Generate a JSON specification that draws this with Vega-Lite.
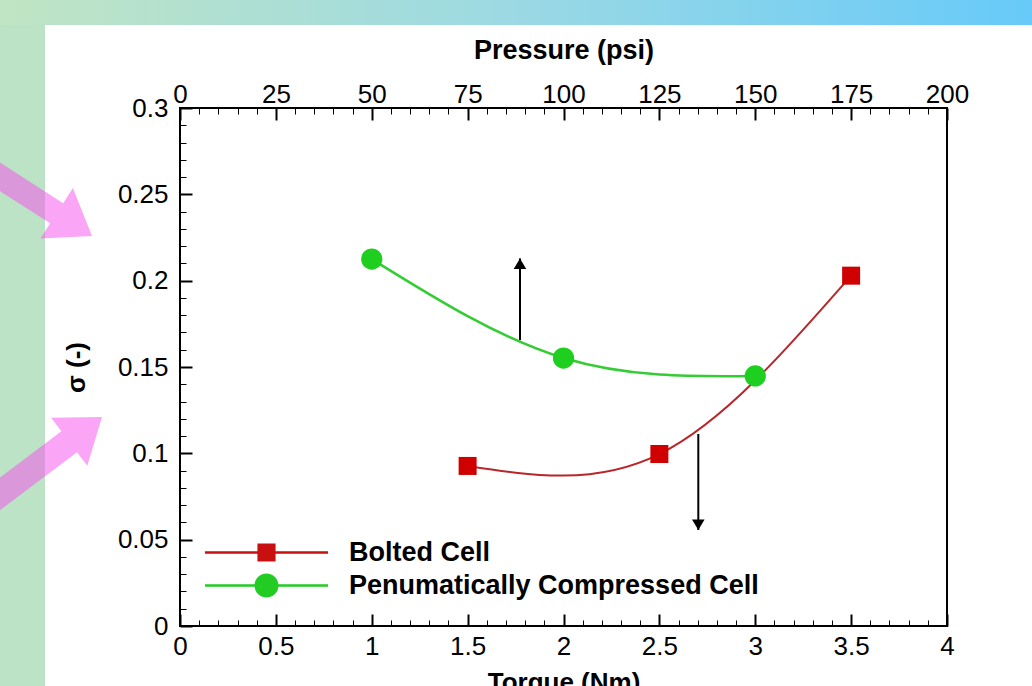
{
  "$schema": "https://vega.github.io/schema/vega-lite/v6.json",
  "width": 767,
  "height": 518,
  "autosize": {"type": "none"},
  "padding": {"left": 180, "top": 108, "right": 85, "bottom": 60},
  "background": "white",
  "config": {
    "view": {"stroke": "black", "strokeWidth": 2},
    "font": "Liberation Sans",
    "axis": {
      "labelFont": "Liberation Sans", "labelFontSize": 26, "labelColor": "black",
      "titleFont": "Liberation Sans", "titleFontSize": 26, "titleFontWeight": "bold", "titleColor": "black",
      "tickColor": "black", "grid": false, "domain": false, "labelFlush": false, "labelOverlap": false
    }
  },
  "datasets": {
    "bolted": [
      {"torque": 1.5, "sigma": 0.0927},
      {"torque": 2.5, "sigma": 0.0996},
      {"torque": 3.5, "sigma": 0.2029}
    ],
    "pneumatic": [
      {"pressure": 50, "sigma": 0.2125},
      {"pressure": 100, "sigma": 0.1552},
      {"pressure": 150, "sigma": 0.1448}
    ],
    "arrows": [
      {"torque": 1.773, "from": 0.1656, "to": 0.2129, "dir": "up"},
      {"torque": 2.703, "from": 0.1112, "to": 0.0556, "dir": "down"}
    ],
    "callouts": [
      {"torque": -0.459, "sigma": 0.2259, "arrow": "upper"},
      {"torque": -0.4068, "sigma": 0.121, "arrow": "lower"}
    ],
    "backdrop": [
      {"part": "top", "x": -1, "x2": 4.6, "y": 0.348, "y2": 0.37},
      {"part": "left", "x": -1, "x2": -0.704, "y": -0.04, "y2": 0.3481}
    ],
    "legend": [
      {"series": "Bolted Cell"},
      {"series": "Penumatically Compressed Cell"}
    ]
  },
  "layer": [
    {
      "data": {"name": "backdrop"},
      "transform": [{"filter": "datum.part === 'top'"}],
      "mark": {"type": "rect", "clip": false, "fill": {"gradient": "linear", "x1": 0, "y1": 0, "x2": 1, "y2": 0, "stops": [{"offset": 0, "color": "#c1e5c3"}, {"offset": 0.5, "color": "#9ad9e4"}, {"offset": 1, "color": "#64c9fa"}]}},
      "encoding": {
        "x": {"field": "x", "type": "quantitative", "scale": {"domain": [0, 4], "nice": false, "zero": false}, "axis": null},
        "x2": {"field": "x2"},
        "y": {"field": "y", "type": "quantitative", "scale": {"domain": [0, 0.3], "nice": false, "zero": false}, "axis": null},
        "y2": {"field": "y2"}
      }
    },
    {
      "data": {"name": "backdrop"},
      "transform": [{"filter": "datum.part === 'left'"}],
      "mark": {"type": "rect", "clip": false, "fill": "#bce3c6"},
      "encoding": {
        "x": {"field": "x", "type": "quantitative", "scale": {"domain": [0, 4], "nice": false, "zero": false}, "axis": null},
        "x2": {"field": "x2"},
        "y": {"field": "y", "type": "quantitative", "scale": {"domain": [0, 0.3], "nice": false, "zero": false}, "axis": null},
        "y2": {"field": "y2"}
      }
    },
    {
      "data": {"name": "callouts"},
      "mark": {"type": "point", "filled": true, "size": 40000, "fill": "#f652ec", "opacity": 0.52, "strokeWidth": 0, "clip": false},
      "encoding": {
        "x": {"field": "torque", "type": "quantitative", "scale": {"domain": [0, 4], "nice": false, "zero": false}, "axis": null},
        "y": {"field": "sigma", "type": "quantitative", "scale": {"domain": [0, 0.3], "nice": false, "zero": false}, "axis": null},
        "shape": {"field": "arrow", "type": "nominal", "legend": null, "scale": {"domain": ["upper", "lower"], "range": ["M0,0L-0.515,0.025L-0.418,-0.126L-1.68,-0.936L-1.55,-1.138L-0.288,-0.328L-0.191,-0.479Z", "M0,0L-0.147,0.487L-0.25,0.351L-1.449,1.254L-1.605,1.046L-0.406,0.143L-0.509,0.007Z"]}}
      }
    },
    {
      "data": {"name": "bolted"},
      "mark": {"type": "line", "interpolate": "natural", "color": "#b8262b", "strokeWidth": 2},
      "encoding": {
        "x": {"field": "torque", "type": "quantitative", "scale": {"domain": [0, 4], "nice": false, "zero": false},
          "axis": {"orient": "bottom", "values": [0, 0.5, 1, 1.5, 2, 2.5, 3, 3.5, 4], "format": "~g", "tickSize": -12, "tickWidth": 2, "labelPadding": 19, "title": "Torque (Nm)", "titlePadding": 10}},
        "y": {"field": "sigma", "type": "quantitative", "scale": {"domain": [0, 0.3], "nice": false, "zero": false},
          "axis": {"orient": "left", "values": [0, 0.05, 0.1, 0.15, 0.2, 0.25, 0.3], "format": "~g", "tickSize": -12, "tickWidth": 2, "labelPadding": 24, "title": "σ (-)", "titlePadding": 28}}
      }
    },
    {
      "data": {"name": "bolted"},
      "mark": {"type": "point", "shape": "square", "filled": true, "size": 324, "color": "#d00000", "opacity": 1},
      "encoding": {
        "x": {"field": "torque", "type": "quantitative", "scale": {"domain": [0, 4], "nice": false, "zero": false},
          "axis": {"orient": "bottom", "values": [0.1, 0.2, 0.3, 0.4, 0.6, 0.7, 0.8, 0.9, 1.1, 1.2, 1.3, 1.4, 1.6, 1.7, 1.8, 1.9, 2.1, 2.2, 2.3, 2.4, 2.6, 2.7, 2.8, 2.9, 3.1, 3.2, 3.3, 3.4, 3.6, 3.7, 3.8, 3.9], "tickSize": -6, "tickWidth": 1, "labels": false, "title": null}},
        "y": {"field": "sigma", "type": "quantitative", "scale": {"domain": [0, 0.3], "nice": false, "zero": false},
          "axis": {"orient": "left", "values": [0.01, 0.02, 0.03, 0.04, 0.06, 0.07, 0.08, 0.09, 0.11, 0.12, 0.13, 0.14, 0.16, 0.17, 0.18, 0.19, 0.21, 0.22, 0.23, 0.24, 0.26, 0.27, 0.28, 0.29], "tickSize": -6, "tickWidth": 1, "labels": false, "title": null}}
      }
    },
    {
      "data": {"name": "pneumatic"},
      "mark": {"type": "line", "interpolate": "natural", "color": "#33cc33", "strokeWidth": 2.5},
      "encoding": {
        "x": {"field": "pressure", "type": "quantitative", "scale": {"domain": [0, 200], "nice": false, "zero": false},
          "axis": {"orient": "top", "values": [0, 25, 50, 75, 100, 125, 150, 175, 200], "format": "d", "tickSize": -12, "tickWidth": 2, "labelPadding": 13, "title": "Pressure (psi)", "titleFontSize": 27, "titlePadding": 17}},
        "y": {"field": "sigma", "type": "quantitative", "scale": {"domain": [0, 0.3], "nice": false, "zero": false}, "axis": null}
      }
    },
    {
      "data": {"name": "pneumatic"},
      "mark": {"type": "point", "shape": "circle", "filled": true, "size": 452, "color": "#1fcf1f", "opacity": 1},
      "encoding": {
        "x": {"field": "pressure", "type": "quantitative", "scale": {"domain": [0, 200], "nice": false, "zero": false},
          "axis": {"orient": "top", "values": [5, 10, 15, 20, 30, 35, 40, 45, 55, 60, 65, 70, 80, 85, 90, 95, 105, 110, 115, 120, 130, 135, 140, 145, 155, 160, 165, 170, 180, 185, 190, 195], "tickSize": -6, "tickWidth": 1, "labels": false, "title": null}},
        "y": {"field": "sigma", "type": "quantitative", "scale": {"domain": [0, 0.3], "nice": false, "zero": false}, "axis": null}
      }
    },
    {
      "data": {"name": "arrows"},
      "mark": {"type": "rule", "color": "black", "strokeWidth": 2},
      "encoding": {
        "x": {"field": "torque", "type": "quantitative", "scale": {"domain": [0, 4], "nice": false, "zero": false}, "axis": null},
        "y": {"field": "from", "type": "quantitative", "scale": {"domain": [0, 0.3], "nice": false, "zero": false}, "axis": null},
        "y2": {"field": "to"}
      }
    },
    {
      "data": {"name": "arrows"},
      "mark": {"type": "point", "filled": true, "size": 440, "color": "black", "opacity": 1},
      "encoding": {
        "x": {"field": "torque", "type": "quantitative", "scale": {"domain": [0, 4], "nice": false, "zero": false}, "axis": null},
        "y": {"field": "to", "type": "quantitative", "scale": {"domain": [0, 0.3], "nice": false, "zero": false}, "axis": null},
        "shape": {"field": "dir", "type": "nominal", "legend": null, "scale": {"domain": ["up", "down"], "range": ["M0,0L-0.6,1L0.6,1Z", "M0,0L-0.6,-1L0.6,-1Z"]}}
      }
    },
    {
      "data": {"name": "legend"},
      "mark": {"type": "point", "filled": true, "size": 0},
      "encoding": {
        "color": {"field": "series", "type": "nominal", "scale": {"domain": ["Bolted Cell", "Penumatically Compressed Cell"], "range": ["#c81010", "#22cc22"]},
          "legend": {"orient": "none", "legendX": 70, "legendY": 428, "title": null, "padding": 0, "symbolSize": 1089, "symbolOpacity": 1, "symbolStrokeWidth": 0, "labelFont": "Liberation Sans", "labelFontSize": 27, "labelFontWeight": "bold", "labelColor": "black", "labelOffset": 66, "labelLimit": 1000, "rowPadding": 3,
            "encode": {"symbols": {"update": {"opacity": {"value": 1}, "size": {"value": 1089}}}}}},
        "shape": {"field": "series", "type": "nominal", "scale": {"domain": ["Bolted Cell", "Penumatically Compressed Cell"], "range": ["M-3.73,-0.07H3.73V0.07H-3.73Z M-0.55,-0.55H0.55V0.55H-0.55Z", "M-3.73,-0.07H3.73V0.07H-3.73Z M-0.727,0C-0.727,-0.4015 -0.4015,-0.727 0,-0.727C0.4015,-0.727 0.727,-0.4015 0.727,0C0.727,0.4015 0.4015,0.727 0,0.727C-0.4015,0.727 -0.727,0.4015 -0.727,0Z"]}}
      }
    }
  ],
  "resolve": {
    "scale": {"x": "independent", "y": "independent", "color": "independent", "shape": "independent"},
    "axis": {"x": "independent", "y": "independent"}
  }
}
